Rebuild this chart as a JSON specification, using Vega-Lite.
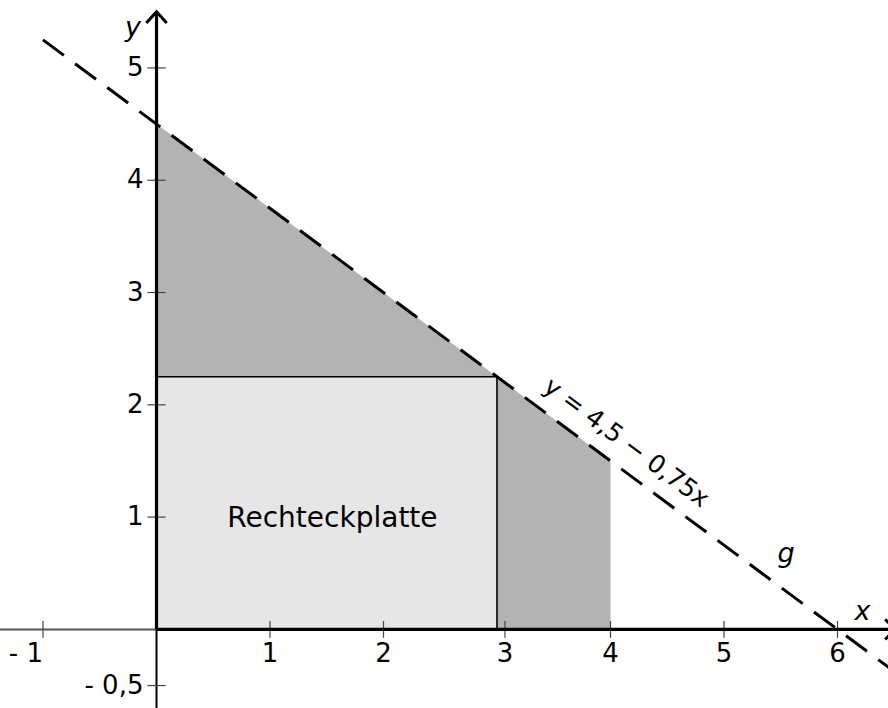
{
  "$schema": "https://vega.github.io/schema/vega-lite/v6.json",
  "width": 888,
  "height": 708,
  "autosize": {"type": "fit", "contains": "padding"},
  "padding": 0,
  "background": "white",
  "config": {"view": {"stroke": null}, "font": "DejaVu Sans"},
  "datasets": {
    "region": [{"x": 0, "y": 4.5}, {"x": 4, "y": 1.5}],
    "plate": [{"x": 0, "x2": 3, "y": 0, "y2": 2.25, "name": "Rechteckplatte"}],
    "line": [{"x": -1.0, "y": 5.25}, {"x": 6.7, "y": -0.525}],
    "axesPos": [{"x": 0, "x2": 6.5, "y": 0, "y2": 0}, {"x": 0, "x2": 0, "y": 0, "y2": 5.49}],
    "axisNegX": [{"x": -1.4, "x2": 0, "y": 0, "y2": 0}],
    "axisNegY": [{"x": 0, "x2": 0, "y": -0.75, "y2": 0}],
    "arrows": [
      {"arrow": "y", "order": 1, "x": -0.09, "y": 5.40},
      {"arrow": "y", "order": 2, "x": 0, "y": 5.50},
      {"arrow": "y", "order": 3, "x": 0.09, "y": 5.40},
      {"arrow": "x", "order": 1, "x": 6.42, "y": 0.09},
      {"arrow": "x", "order": 2, "x": 6.51, "y": 0},
      {"arrow": "x", "order": 3, "x": 6.42, "y": -0.09}
    ],
    "xticks": [
      {"v": -1, "label": "- 1"},
      {"v": 1, "label": "1"},
      {"v": 2, "label": "2"},
      {"v": 3.07, "label": "3"},
      {"v": 4, "label": "4"},
      {"v": 5, "label": "5"},
      {"v": 6, "label": "6"}
    ],
    "yticks": [
      {"v": -0.5, "label": "- 0,5"},
      {"v": 1, "label": "1"},
      {"v": 2, "label": "2"},
      {"v": 3, "label": "3"},
      {"v": 4, "label": "4"},
      {"v": 5, "label": "5"}
    ],
    "eq": [{"x": 4.141, "y": 1.664, "label": "y = 4,5 − 0,75x"}],
    "names": [
      {"x": 5.546, "y": 0.60, "label": "g"},
      {"x": 6.22, "y": 0.084, "label": "x"},
      {"x": -0.207, "y": 5.284, "label": "y"}
    ]
  },
  "layer": [
    {
      "data": {"name": "region"},
      "mark": {"type": "area", "color": "#b3b3b3", "clip": true},
      "encoding": {
        "x": {"field": "x", "type": "quantitative", "scale": {"domain": [-1.379, 6.445], "nice": false, "zero": false}, "axis": null},
        "y": {"field": "y", "type": "quantitative", "scale": {"domain": [-0.70, 5.605], "nice": false, "zero": false}, "axis": null},
        "y2": {"datum": 0}
      }
    },
    {
      "data": {"name": "plate"},
      "mark": {"type": "rect", "fill": "#e6e6e6", "stroke": "#000000", "strokeWidth": 1.6},
      "encoding": {
        "x": {"field": "x", "type": "quantitative"},
        "x2": {"field": "x2"},
        "y": {"field": "y", "type": "quantitative"},
        "y2": {"field": "y2"}
      }
    },
    {
      "data": {"name": "plate"},
      "mark": {"type": "text", "fontSize": 28, "align": "center", "baseline": "alphabetic", "color": "#000000"},
      "encoding": {
        "x": {"datum": 1.55, "type": "quantitative"},
        "y": {"datum": 0.91, "type": "quantitative"},
        "text": {"field": "name"}
      }
    },
    {
      "data": {"name": "axisNegX"},
      "mark": {"type": "rule", "color": "#555555", "strokeWidth": 2, "clip": true},
      "encoding": {
        "x": {"field": "x", "type": "quantitative"},
        "x2": {"field": "x2"},
        "y": {"field": "y", "type": "quantitative"},
        "y2": {"field": "y2"}
      }
    },
    {
      "data": {"name": "axisNegY"},
      "mark": {"type": "rule", "color": "#000000", "strokeWidth": 2, "clip": true},
      "encoding": {
        "x": {"field": "x", "type": "quantitative"},
        "x2": {"field": "x2"},
        "y": {"field": "y", "type": "quantitative"},
        "y2": {"field": "y2"}
      }
    },
    {
      "data": {"name": "xticks"},
      "mark": {"type": "rule", "color": "#444444", "strokeWidth": 1.2},
      "encoding": {
        "x": {"field": "v", "type": "quantitative"},
        "y": {"datum": -0.075, "type": "quantitative"},
        "y2": {"datum": 0.075}
      }
    },
    {
      "data": {"name": "yticks"},
      "mark": {"type": "rule", "color": "#444444", "strokeWidth": 1.2},
      "encoding": {
        "y": {"field": "v", "type": "quantitative"},
        "x": {"datum": -0.08, "type": "quantitative"},
        "x2": {"datum": 0.08}
      }
    },
    {
      "data": {"name": "axesPos"},
      "mark": {"type": "rule", "color": "#000000", "strokeWidth": 3.2, "clip": true},
      "encoding": {
        "x": {"field": "x", "type": "quantitative"},
        "x2": {"field": "x2"},
        "y": {"field": "y", "type": "quantitative"},
        "y2": {"field": "y2"}
      }
    },
    {
      "data": {"name": "arrows"},
      "mark": {"type": "line", "color": "#000000", "strokeWidth": 3, "clip": true, "strokeJoin": "miter"},
      "encoding": {
        "x": {"field": "x", "type": "quantitative"},
        "y": {"field": "y", "type": "quantitative"},
        "detail": {"field": "arrow"},
        "order": {"field": "order"}
      }
    },
    {
      "data": {"name": "line"},
      "mark": {"type": "line", "color": "#000000", "strokeWidth": 3, "strokeDash": [26, 14], "clip": true},
      "encoding": {
        "x": {"field": "x", "type": "quantitative"},
        "y": {"field": "y", "type": "quantitative"}
      }
    },
    {
      "data": {"name": "xticks"},
      "transform": [{"filter": "datum.v > 0"}],
      "mark": {"type": "text", "fontSize": 26, "align": "center", "baseline": "alphabetic", "color": "#000000"},
      "encoding": {
        "x": {"field": "v", "type": "quantitative"},
        "y": {"datum": -0.288, "type": "quantitative"},
        "text": {"field": "label"}
      }
    },
    {
      "data": {"name": "xticks"},
      "transform": [{"filter": "datum.v < 0"}],
      "mark": {"type": "text", "fontSize": 26, "align": "right", "baseline": "alphabetic", "color": "#000000"},
      "encoding": {
        "x": {"field": "v", "type": "quantitative"},
        "y": {"datum": -0.288, "type": "quantitative"},
        "text": {"field": "label"}
      }
    },
    {
      "data": {"name": "yticks"},
      "mark": {"type": "text", "fontSize": 26, "align": "right", "baseline": "middle", "color": "#000000"},
      "encoding": {
        "y": {"field": "v", "type": "quantitative"},
        "x": {"datum": -0.115, "type": "quantitative"},
        "text": {"field": "label"}
      }
    },
    {
      "data": {"name": "eq"},
      "mark": {"type": "text", "fontSize": 25, "align": "center", "baseline": "middle", "angle": 36.6, "color": "#000000"},
      "encoding": {
        "x": {"field": "x", "type": "quantitative"},
        "y": {"field": "y", "type": "quantitative"},
        "text": {"field": "label"}
      }
    },
    {
      "data": {"name": "names"},
      "mark": {"type": "text", "fontSize": 27, "fontStyle": "italic", "align": "center", "baseline": "alphabetic", "color": "#000000"},
      "encoding": {
        "x": {"field": "x", "type": "quantitative"},
        "y": {"field": "y", "type": "quantitative"},
        "text": {"field": "label"}
      }
    }
  ]
}
